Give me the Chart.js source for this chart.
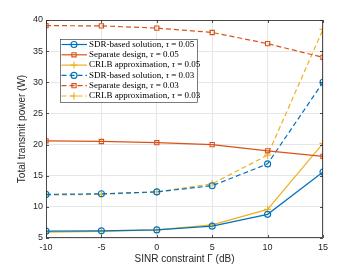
<!DOCTYPE html>
<html lang="en">
<head>
  <meta charset="UTF-8" />
  <title>Total transmit power vs SINR constraint</title>
  <script src="https://cdn.jsdelivr.net/npm/chart.js"></script>
  <style>
    body { margin: 0; background: #fff; }
    #wrap { width: 357px; height: 268px; position: relative; }
  </style>
</head>
<body>
  <div id="wrap"><canvas id="powerChart"></canvas></div>

  <script>
    // SINR constraint values (dB)
    const sinrDb = [-10, -5, 0, 5, 10, 15];

    // series values (W)
    const sdr005 = [6.1, 6.15, 6.3, 6.9, 8.8, 15.6];
    const sep005 = [20.6, 20.5, 20.3, 20.0, 19.0, 18.1];
    const crlb005 = [5.95, 6.05, 6.3, 7.1, 9.6, 20.2];
    const sdr003 = [12.0, 12.1, 12.4, 13.4, 16.9, 30.0];
    const sep003 = [39.1, 39.05, 38.7, 38.0, 36.2, 34.0];
    const crlb003 = [11.9, 12.0, 12.4, 13.7, 18.3, 38.5];

    const xTicks = [-10, -5, 0, 5, 10, 15];
    const yTicks = [5, 10, 15, 20, 25, 30, 35, 40];

    const blue = '#0072BD', orange = '#D95319', yellow = '#EDB120';

    const pts = vals => vals.map((v, i) => ({ x: sinrDb[i], y: v }));

    function series(label, tau, vals, color, marker, dashed) {
      return {
        label: label, tau: tau,
        data: pts(vals),
        borderColor: color,
        borderWidth: 1.2,
        borderDash: dashed ? [5, 3] : [],
        pointStyle: marker,
        pointRadius: marker === 'cross' ? 3.5 : 3,
        pointBorderColor: color,
        pointBackgroundColor: 'rgba(0,0,0,0)',
        pointBorderWidth: 1.1,
        tension: 0
      };
    }

    const datasets = [
      series('SDR-based solution, ', '0.05', sdr005, blue, 'circle', false),
      series('Separate design, ', '0.05', sep005, orange, 'rect', false),
      series('CRLB approximation, ', '0.05', crlb005, yellow, 'cross', false),
      series('SDR-based solution, ', '0.03', sdr003, blue, 'circle', true),
      series('Separate design, ', '0.03', sep003, orange, 'rect', true),
      series('CRLB approximation, ', '0.03', crlb003, yellow, 'cross', true)
    ];

    // box around the axes, inner tick marks and MATLAB-like legend
    const matlabBox = {
      id: 'matlabBox',
      afterDatasetsDraw(chart) {
        const ctx = chart.ctx, a = chart.chartArea;
        const xs = chart.scales.x, ys = chart.scales.y;
        ctx.save();
        ctx.strokeStyle = '#262626';
        ctx.lineWidth = 0.8;
        ctx.strokeRect(a.left + 0.5, a.top + 0.5, a.right - a.left - 1, a.bottom - a.top - 1);
        ctx.beginPath();
        xTicks.forEach(t => {
          const px = Math.round(xs.getPixelForValue(t)) + 0.5;
          ctx.moveTo(px, a.bottom); ctx.lineTo(px, a.bottom - 3);
          ctx.moveTo(px, a.top); ctx.lineTo(px, a.top + 3);
        });
        yTicks.forEach(t => {
          const py = Math.round(ys.getPixelForValue(t)) + 0.5;
          ctx.moveTo(a.left, py); ctx.lineTo(a.left + 3, py);
          ctx.moveTo(a.right, py); ctx.lineTo(a.right - 3, py);
        });
        ctx.stroke();

        // legend
        const lx = 60, ly = 39, lw = 137, lh = 63, rowH = 10.3;
        ctx.fillStyle = '#fff';
        ctx.fillRect(lx, ly, lw, lh);
        ctx.strokeStyle = '#262626';
        ctx.lineWidth = 0.6;
        ctx.strokeRect(lx + 0.5, ly + 0.5, lw, lh);
        chart.data.datasets.forEach((ds, i) => {
          const cy = ly + 5.5 + i * rowH;
          ctx.strokeStyle = ds.borderColor;
          ctx.lineWidth = 1.2;
          ctx.setLineDash(ds.borderDash);
          ctx.beginPath();
          ctx.moveTo(lx + 1.5, cy); ctx.lineTo(lx + 27, cy);
          ctx.stroke();
          ctx.setLineDash([]);
          ctx.lineWidth = 1.1;
          ctx.fillStyle = 'rgba(0,0,0,0)';
          Chart.helpers.drawPoint(ctx, {
            pointStyle: ds.pointStyle, radius: ds.pointRadius, borderWidth: 1.1
          }, lx + 14, cy);
          ctx.fillStyle = '#000';
          ctx.textBaseline = 'middle';
          let tx = lx + 29;
          ctx.font = '9px "Liberation Serif"';
          ctx.fillText(ds.label, tx, cy);
          tx += ctx.measureText(ds.label).width;
          ctx.font = 'italic 9px "Liberation Serif"';
          ctx.fillText('τ', tx, cy);
          tx += ctx.measureText('τ').width;
          ctx.font = '9px "Liberation Serif"';
          ctx.fillText(' = ' + ds.tau, tx, cy);
        });
        ctx.restore();
      }
    };

    new Chart(document.getElementById('powerChart'), {
      type: 'line',
      data: { datasets: datasets },
      plugins: [matlabBox],
      options: {
        responsive: true,
        maintainAspectRatio: false,
        animation: false,
        layout: { padding: { top: 20, right: 34, left: 0, bottom: 0 } },
        plugins: { legend: { display: false }, tooltip: { enabled: false } },
        scales: {
          x: {
            type: 'linear', min: -10, max: 15,
            afterBuildTicks: s => { s.ticks = xTicks.map(v => ({ value: v })); },
            afterFit: s => { s.height = 30; },
            grid: { color: '#e6e6e6', drawTicks: false },
            border: { display: false },
            ticks: { color: '#262626', font: { family: 'Liberation Sans', size: 9 }, padding: 4 },
            title: { display: true, text: 'SINR constraint Γ (dB)', color: '#262626',
                     font: { family: 'Liberation Sans', size: 10 }, padding: { top: 0, bottom: 3 } }
          },
          y: {
            min: 5, max: 40,
            afterBuildTicks: s => { s.ticks = yTicks.map(v => ({ value: v })); },
            afterFit: s => { s.width = 46; },
            grid: { color: '#e6e6e6', drawTicks: false },
            border: { display: false },
            ticks: { color: '#262626', font: { family: 'Liberation Sans', size: 9 }, padding: 3 },
            title: { display: true, text: 'Total transmit power (W)', color: '#262626',
                     font: { family: 'Liberation Sans', size: 10 }, padding: { top: 16, bottom: 0 } }
          }
        }
      }
    });
  </script>
</body>
</html>
